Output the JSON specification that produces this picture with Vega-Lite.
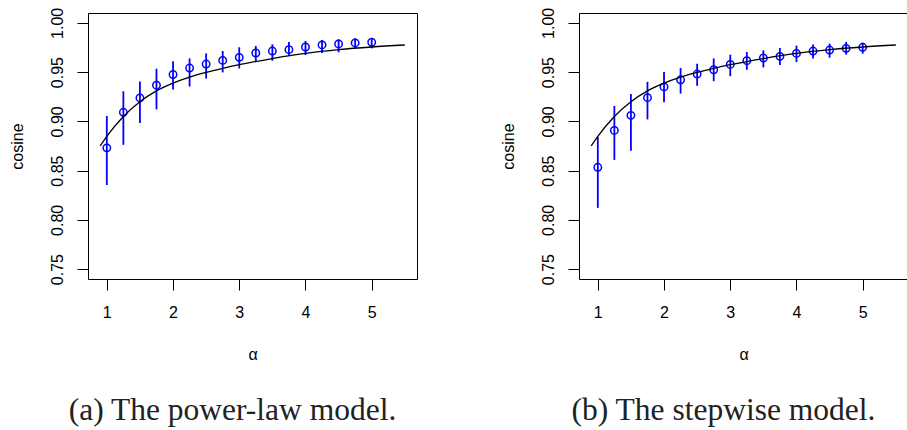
{
  "$schema": "https://vega.github.io/schema/vega-lite/v6.json",
  "autosize": {"type": "pad"},
  "padding": {"left": 8, "top": 6, "right": 0, "bottom": 0},
  "background": "white",
  "spacing": 162,
  "bounds": "flush",
  "config": {
    "view": {"stroke": "black", "strokeWidth": 1},
    "axis": {"grid": false, "domain": false, "tickColor": "black", "tickSize": 11, "tickWidth": 1, "labelFont": "Liberation Sans", "labelFontSize": 16, "labelColor": "black", "labelOverlap": false, "labelFlush": false, "titleFont": "Liberation Sans", "titleFontSize": 16, "titleFontWeight": "normal", "titleColor": "black"},
    "axisX": {"labelPadding": 14, "titleY": 80, "titleBaseline": "alphabetic"},
    "axisY": {"labelAngle": 270, "labelAlign": "center", "labelBaseline": "alphabetic", "labelPadding": 15, "titleAngle": 270, "titleX": -66, "titleY": 133, "titleAlign": "center", "titleBaseline": "alphabetic"},
    "title": {"font": "Liberation Serif", "fontSize": 31.5, "fontWeight": "normal", "color": "#222222", "orient": "bottom", "offset": 33, "dx": -20, "anchor": "middle"}
  },
  "datasets": {
    "curve": [
      {"alpha": 0.9, "cos": 0.8751},
      {"alpha": 1.0, "cos": 0.8848},
      {"alpha": 1.25, "cos": 0.9050},
      {"alpha": 1.5, "cos": 0.9200},
      {"alpha": 1.75, "cos": 0.9310},
      {"alpha": 2.0, "cos": 0.9388},
      {"alpha": 2.25, "cos": 0.9449},
      {"alpha": 2.5, "cos": 0.9497},
      {"alpha": 2.75, "cos": 0.9538},
      {"alpha": 3.0, "cos": 0.9575},
      {"alpha": 3.5, "cos": 0.9638},
      {"alpha": 4.0, "cos": 0.9690},
      {"alpha": 4.5, "cos": 0.9728},
      {"alpha": 5.0, "cos": 0.9755},
      {"alpha": 5.5, "cos": 0.9775}
    ],
    "powerlaw": [
      {"alpha": 1.0, "mean": 0.8731, "lo": 0.8354, "hi": 0.9054},
      {"alpha": 1.25, "mean": 0.9092, "lo": 0.8762, "hi": 0.9306},
      {"alpha": 1.5, "mean": 0.9238, "lo": 0.8983, "hi": 0.9405},
      {"alpha": 1.75, "mean": 0.9367, "lo": 0.9122, "hi": 0.9534},
      {"alpha": 2.0, "mean": 0.9476, "lo": 0.9323, "hi": 0.9609},
      {"alpha": 2.25, "mean": 0.9541, "lo": 0.9354, "hi": 0.9639},
      {"alpha": 2.5, "mean": 0.9582, "lo": 0.9435, "hi": 0.9690},
      {"alpha": 2.75, "mean": 0.9619, "lo": 0.9497, "hi": 0.9714},
      {"alpha": 3.0, "mean": 0.9650, "lo": 0.9537, "hi": 0.9752},
      {"alpha": 3.25, "mean": 0.9694, "lo": 0.9602, "hi": 0.9765},
      {"alpha": 3.5, "mean": 0.9714, "lo": 0.9616, "hi": 0.9782},
      {"alpha": 3.75, "mean": 0.9728, "lo": 0.9663, "hi": 0.9806},
      {"alpha": 4.0, "mean": 0.9755, "lo": 0.9673, "hi": 0.9816},
      {"alpha": 4.25, "mean": 0.9776, "lo": 0.9694, "hi": 0.9827},
      {"alpha": 4.5, "mean": 0.9786, "lo": 0.9701, "hi": 0.9833},
      {"alpha": 4.75, "mean": 0.9796, "lo": 0.9735, "hi": 0.9844},
      {"alpha": 5.0, "mean": 0.9803, "lo": 0.9741, "hi": 0.9847}
    ],
    "stepwise": [
      {"alpha": 1.0, "mean": 0.8534, "lo": 0.8122, "hi": 0.8844},
      {"alpha": 1.25, "mean": 0.8908, "lo": 0.8609, "hi": 0.9156},
      {"alpha": 1.5, "mean": 0.9061, "lo": 0.8701, "hi": 0.9279},
      {"alpha": 1.75, "mean": 0.9241, "lo": 0.9020, "hi": 0.9401},
      {"alpha": 2.0, "mean": 0.9350, "lo": 0.9194, "hi": 0.9500},
      {"alpha": 2.25, "mean": 0.9422, "lo": 0.9282, "hi": 0.9541},
      {"alpha": 2.5, "mean": 0.9480, "lo": 0.9361, "hi": 0.9585},
      {"alpha": 2.75, "mean": 0.9524, "lo": 0.9408, "hi": 0.9639},
      {"alpha": 3.0, "mean": 0.9578, "lo": 0.9459, "hi": 0.9677},
      {"alpha": 3.25, "mean": 0.9616, "lo": 0.9524, "hi": 0.9704},
      {"alpha": 3.5, "mean": 0.9643, "lo": 0.9548, "hi": 0.9721},
      {"alpha": 3.75, "mean": 0.9660, "lo": 0.9571, "hi": 0.9745},
      {"alpha": 4.0, "mean": 0.9690, "lo": 0.9602, "hi": 0.9769},
      {"alpha": 4.25, "mean": 0.9714, "lo": 0.9639, "hi": 0.9779},
      {"alpha": 4.5, "mean": 0.9724, "lo": 0.9646, "hi": 0.9789},
      {"alpha": 4.75, "mean": 0.9741, "lo": 0.9677, "hi": 0.9806},
      {"alpha": 5.0, "mean": 0.9752, "lo": 0.9687, "hi": 0.9799}
    ]
  },
  "hconcat": [
    {
      "width": 329,
      "height": 266,
      "title": {"text": "(a) The power-law model."},
      "layer": [
        {
          "data": {"name": "powerlaw"},
          "mark": {"type": "rule", "color": "#0000FF", "strokeWidth": 1.8},
          "encoding": {
            "x": {"field": "alpha", "type": "quantitative", "scale": {"domain": [0.716, 5.684], "nice": false, "zero": false}, "axis": {"values": [1, 2, 3, 4, 5], "format": "d", "title": "α"}},
            "y": {"field": "lo", "type": "quantitative", "scale": {"domain": [0.74, 1.01], "nice": false, "zero": false}, "axis": {"values": [0.75, 0.8, 0.85, 0.9, 0.95, 1.0], "format": ".2f", "title": "cosine"}},
            "y2": {"field": "hi"}
          }
        },
        {
          "data": {"name": "powerlaw"},
          "mark": {"type": "point", "shape": "circle", "filled": false, "color": "#0000FF", "size": 55, "strokeWidth": 1.5, "opacity": 1},
          "encoding": {
            "x": {"field": "alpha", "type": "quantitative"},
            "y": {"field": "mean", "type": "quantitative"}
          }
        },
        {
          "data": {"name": "curve"},
          "mark": {"type": "line", "color": "black", "strokeWidth": 1.3, "interpolate": "monotone"},
          "encoding": {
            "x": {"field": "alpha", "type": "quantitative"},
            "y": {"field": "cos", "type": "quantitative"}
          }
        }
      ]
    },
    {
      "width": 329,
      "height": 266,
      "title": {"text": "(b) The stepwise model."},
      "layer": [
        {
          "data": {"name": "stepwise"},
          "mark": {"type": "rule", "color": "#0000FF", "strokeWidth": 1.8},
          "encoding": {
            "x": {"field": "alpha", "type": "quantitative", "scale": {"domain": [0.716, 5.684], "nice": false, "zero": false}, "axis": {"values": [1, 2, 3, 4, 5], "format": "d", "title": "α"}},
            "y": {"field": "lo", "type": "quantitative", "scale": {"domain": [0.74, 1.01], "nice": false, "zero": false}, "axis": {"values": [0.75, 0.8, 0.85, 0.9, 0.95, 1.0], "format": ".2f", "title": "cosine"}},
            "y2": {"field": "hi"}
          }
        },
        {
          "data": {"name": "stepwise"},
          "mark": {"type": "point", "shape": "circle", "filled": false, "color": "#0000FF", "size": 55, "strokeWidth": 1.5, "opacity": 1},
          "encoding": {
            "x": {"field": "alpha", "type": "quantitative"},
            "y": {"field": "mean", "type": "quantitative"}
          }
        },
        {
          "data": {"name": "curve"},
          "mark": {"type": "line", "color": "black", "strokeWidth": 1.3, "interpolate": "monotone"},
          "encoding": {
            "x": {"field": "alpha", "type": "quantitative"},
            "y": {"field": "cos", "type": "quantitative"}
          }
        }
      ]
    }
  ]
}
